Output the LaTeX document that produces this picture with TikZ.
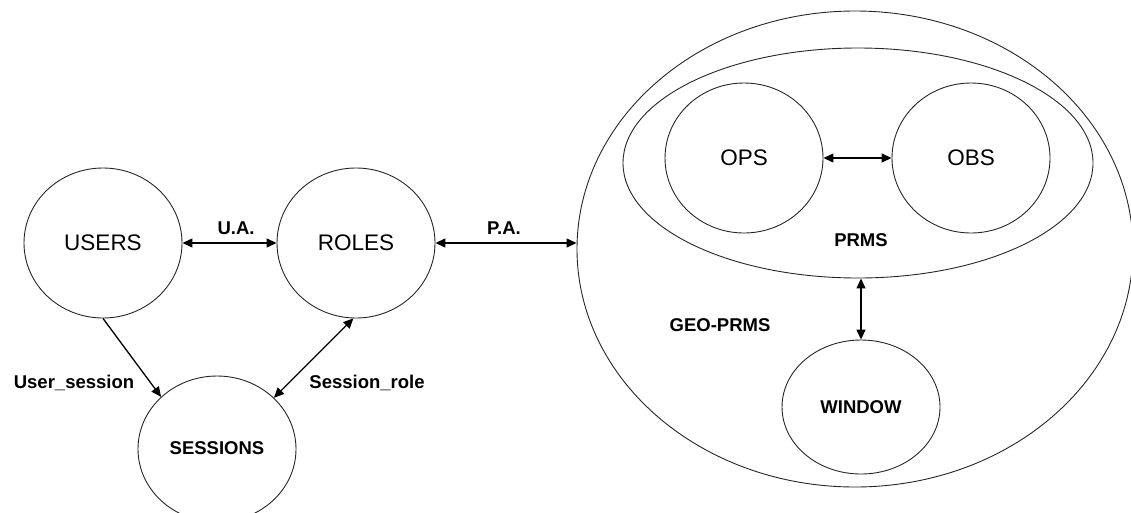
\documentclass[tikz,border=0pt]{standalone}
\usepackage{fontspec}
\setmainfont{Liberation Sans}
\usetikzlibrary{shapes.geometric,arrows.meta}
\begin{document}
\begin{tikzpicture}[x=1pt,y=-1pt,
  set/.style={draw=black!85,line width=0.9pt,ellipse,inner sep=0pt,
    minimum width=158pt,minimum height=150pt},
  bigname/.style={font=\fontsize{22.5}{24}\selectfont},
  smallname/.style={font=\fontsize{18.5}{20}\selectfont\bfseries},
  lbl/.style={font=\fontsize{18.5}{20}\selectfont\bfseries,inner sep=0pt},
  link/.style={line width=1.3pt,{Triangle[length=10pt,width=9pt]}-{Triangle[length=10pt,width=9pt]}},
  onelink/.style={line width=1.3pt,-{Triangle[length=10pt,width=9pt]}}]
\clip (0,0) rectangle (1131,512);

% left part: users, roles and sessions
\node[set,bigname] (users) at (103,243) {USERS};
\node[set,bigname] (roles) at (356,243) {ROLES};
\node[set,smallname,minimum height=146pt] (sess) at (217,449) {\raisebox{2pt}{SESSIONS}};

% right part: nested permission sets
\node[draw=black!85,line width=0.9pt,ellipse,inner sep=0pt,
  minimum width=556pt,minimum height=476pt] (geo) at (855,249) {};
\node[draw=black!85,line width=0.9pt,ellipse,inner sep=0pt,
  minimum width=470pt,minimum height=230pt] (prms) at (858,163) {};
\node[set,bigname] (ops) at (744,158) {OPS};
\node[set,bigname] (obs) at (971,158) {OBS};
\node[set,smallname,minimum height=134pt] (win) at (861,407) {\raisebox{-5pt}{WINDOW}};

\node[lbl] (prmslbl) at (861,240) {PRMS};
\node[lbl] (geolbl) at (720,325) {GEO-PRMS};

% connectors
\draw[link] (users.east) -- (roles.west);
\node[lbl] (ua) at (236,228) {U.A.};
\draw[link] (roles.east) -- (roles.east -| geo.west);
\node[lbl] (pa) at (504,228) {P.A.};
\draw[onelink] (users.south) -- (sess.137);
\node[lbl] (us) at (74,383) {User\_session};
\draw[link] (sess.42) -- (roles.268);
\node[lbl] (sr) at (367,383) {Session\_role};
\draw[link] (ops.east) -- (obs.west);
\draw[link] (win.north |- prms.south) -- (win.north);
\end{tikzpicture}
\end{document}
